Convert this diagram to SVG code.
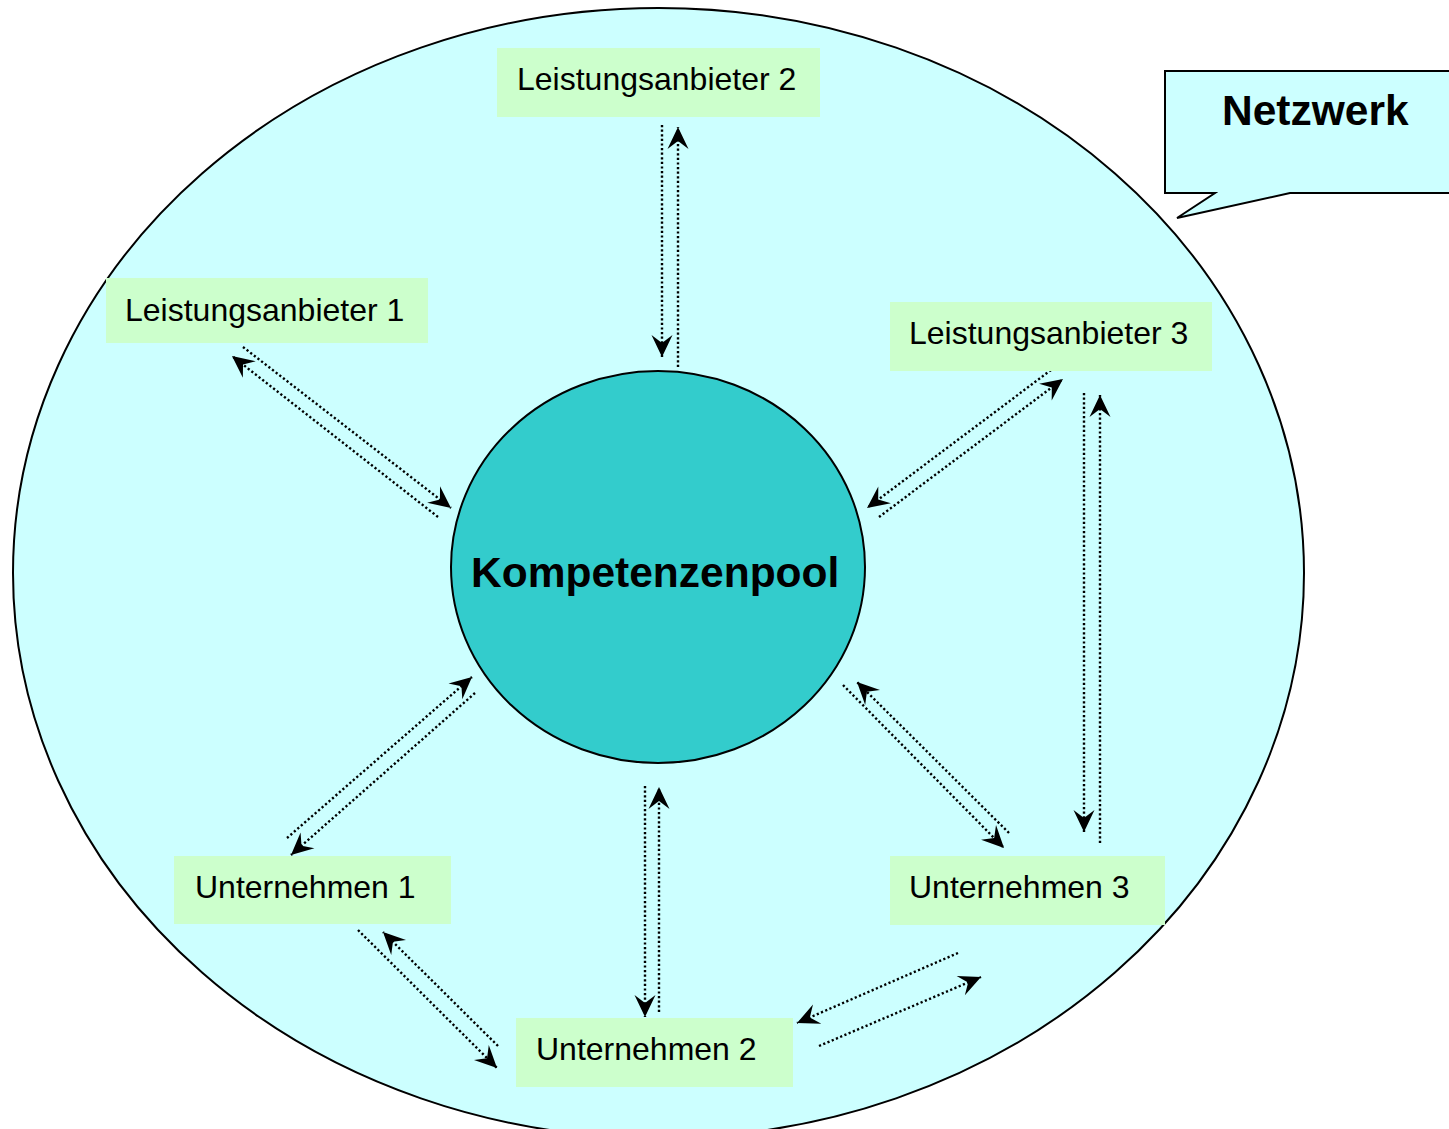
<svg xmlns="http://www.w3.org/2000/svg" width="1449" height="1129" viewBox="0 0 1449 1129">
<style>
.box{fill:#CCFFCC;stroke:none}
.lbl{font-family:"Liberation Sans",Arial,sans-serif;font-size:32px;fill:#000}
.bold{font-family:"Liberation Sans",Arial,sans-serif;font-size:42.5px;font-weight:bold;fill:#000}
.dot{stroke:#000;stroke-width:2.4;stroke-dasharray:2.2 2.4;fill:none;marker-end:url(#ah)}
</style>
<defs>
<marker id="ah" viewBox="-23 -11 24 22" refX="0" refY="0" markerWidth="24" markerHeight="22" markerUnits="userSpaceOnUse" orient="auto">
<path d="M0,0 L-22,-10.5 L-14,0 L-22,10.5 Z" fill="#000"/>
</marker>
</defs>
<rect width="1449" height="1129" fill="#fff"/>
<g id="netzwerk-ellipse">
<ellipse cx="658.5" cy="573" rx="645.5" ry="565" fill="#CCFFFF" stroke="#000" stroke-width="2"/>
</g>
<g id="callout-netzwerk">
<path d="M1452,71 L1165,71 L1165,193 L1215,193 L1177,218 L1290,193 L1452,193" fill="#CCFFFF" stroke="#000" stroke-width="2"/>
<text class="bold" x="1222" y="125">Netzwerk</text>
</g>
<g id="kompetenzenpool">
<ellipse cx="658" cy="567" rx="207" ry="196" fill="#33CCCC" stroke="#000" stroke-width="2"/>
<text class="bold" x="471" y="587">Kompetenzenpool</text>
</g>
<g id="connectors">
<line class="dot" x1="662" y1="125" x2="662" y2="357"/>
<line class="dot" x1="678" y1="367" x2="678" y2="127"/>
<line class="dot" x1="243" y1="347" x2="451" y2="508"/>
<line class="dot" x1="438" y1="517" x2="232" y2="356"/>
<line class="dot" x1="1051" y1="370" x2="867" y2="508"/>
<line class="dot" x1="879" y1="517" x2="1063" y2="379"/>
<line class="dot" x1="1084" y1="393" x2="1084" y2="832"/>
<line class="dot" x1="1100" y1="843" x2="1100" y2="395"/>
<line class="dot" x1="843" y1="685" x2="1004" y2="848"/>
<line class="dot" x1="1009" y1="833" x2="857" y2="682"/>
<line class="dot" x1="287" y1="838" x2="472" y2="677"/>
<line class="dot" x1="475" y1="693" x2="291" y2="855"/>
<line class="dot" x1="645" y1="786" x2="645" y2="1017"/>
<line class="dot" x1="659" y1="1012" x2="659" y2="787"/>
<line class="dot" x1="358" y1="930" x2="497" y2="1068"/>
<line class="dot" x1="498" y1="1046" x2="383" y2="932"/>
<line class="dot" x1="958" y1="953" x2="797" y2="1023"/>
<line class="dot" x1="819" y1="1046" x2="981" y2="977"/>
</g>
<g id="leistungsanbieter-2">
<rect class="box" x="497" y="48" width="323" height="69"/>
<text class="lbl" x="517" y="90">Leistungsanbieter 2</text>
</g>
<g id="leistungsanbieter-1">
<rect class="box" x="106" y="278" width="322" height="65"/>
<text class="lbl" x="125" y="321">Leistungsanbieter 1</text>
</g>
<g id="leistungsanbieter-3">
<rect class="box" x="890" y="302" width="322" height="69"/>
<text class="lbl" x="909" y="344">Leistungsanbieter 3</text>
</g>
<g id="unternehmen-1">
<rect class="box" x="174" y="856" width="277" height="68"/>
<text class="lbl" x="195" y="898">Unternehmen 1</text>
</g>
<g id="unternehmen-2">
<rect class="box" x="516" y="1018" width="277" height="69"/>
<text class="lbl" x="536" y="1060">Unternehmen 2</text>
</g>
<g id="unternehmen-3">
<rect class="box" x="890" y="856" width="275" height="69"/>
<text class="lbl" x="909" y="898">Unternehmen 3</text>
</g>
</svg>
